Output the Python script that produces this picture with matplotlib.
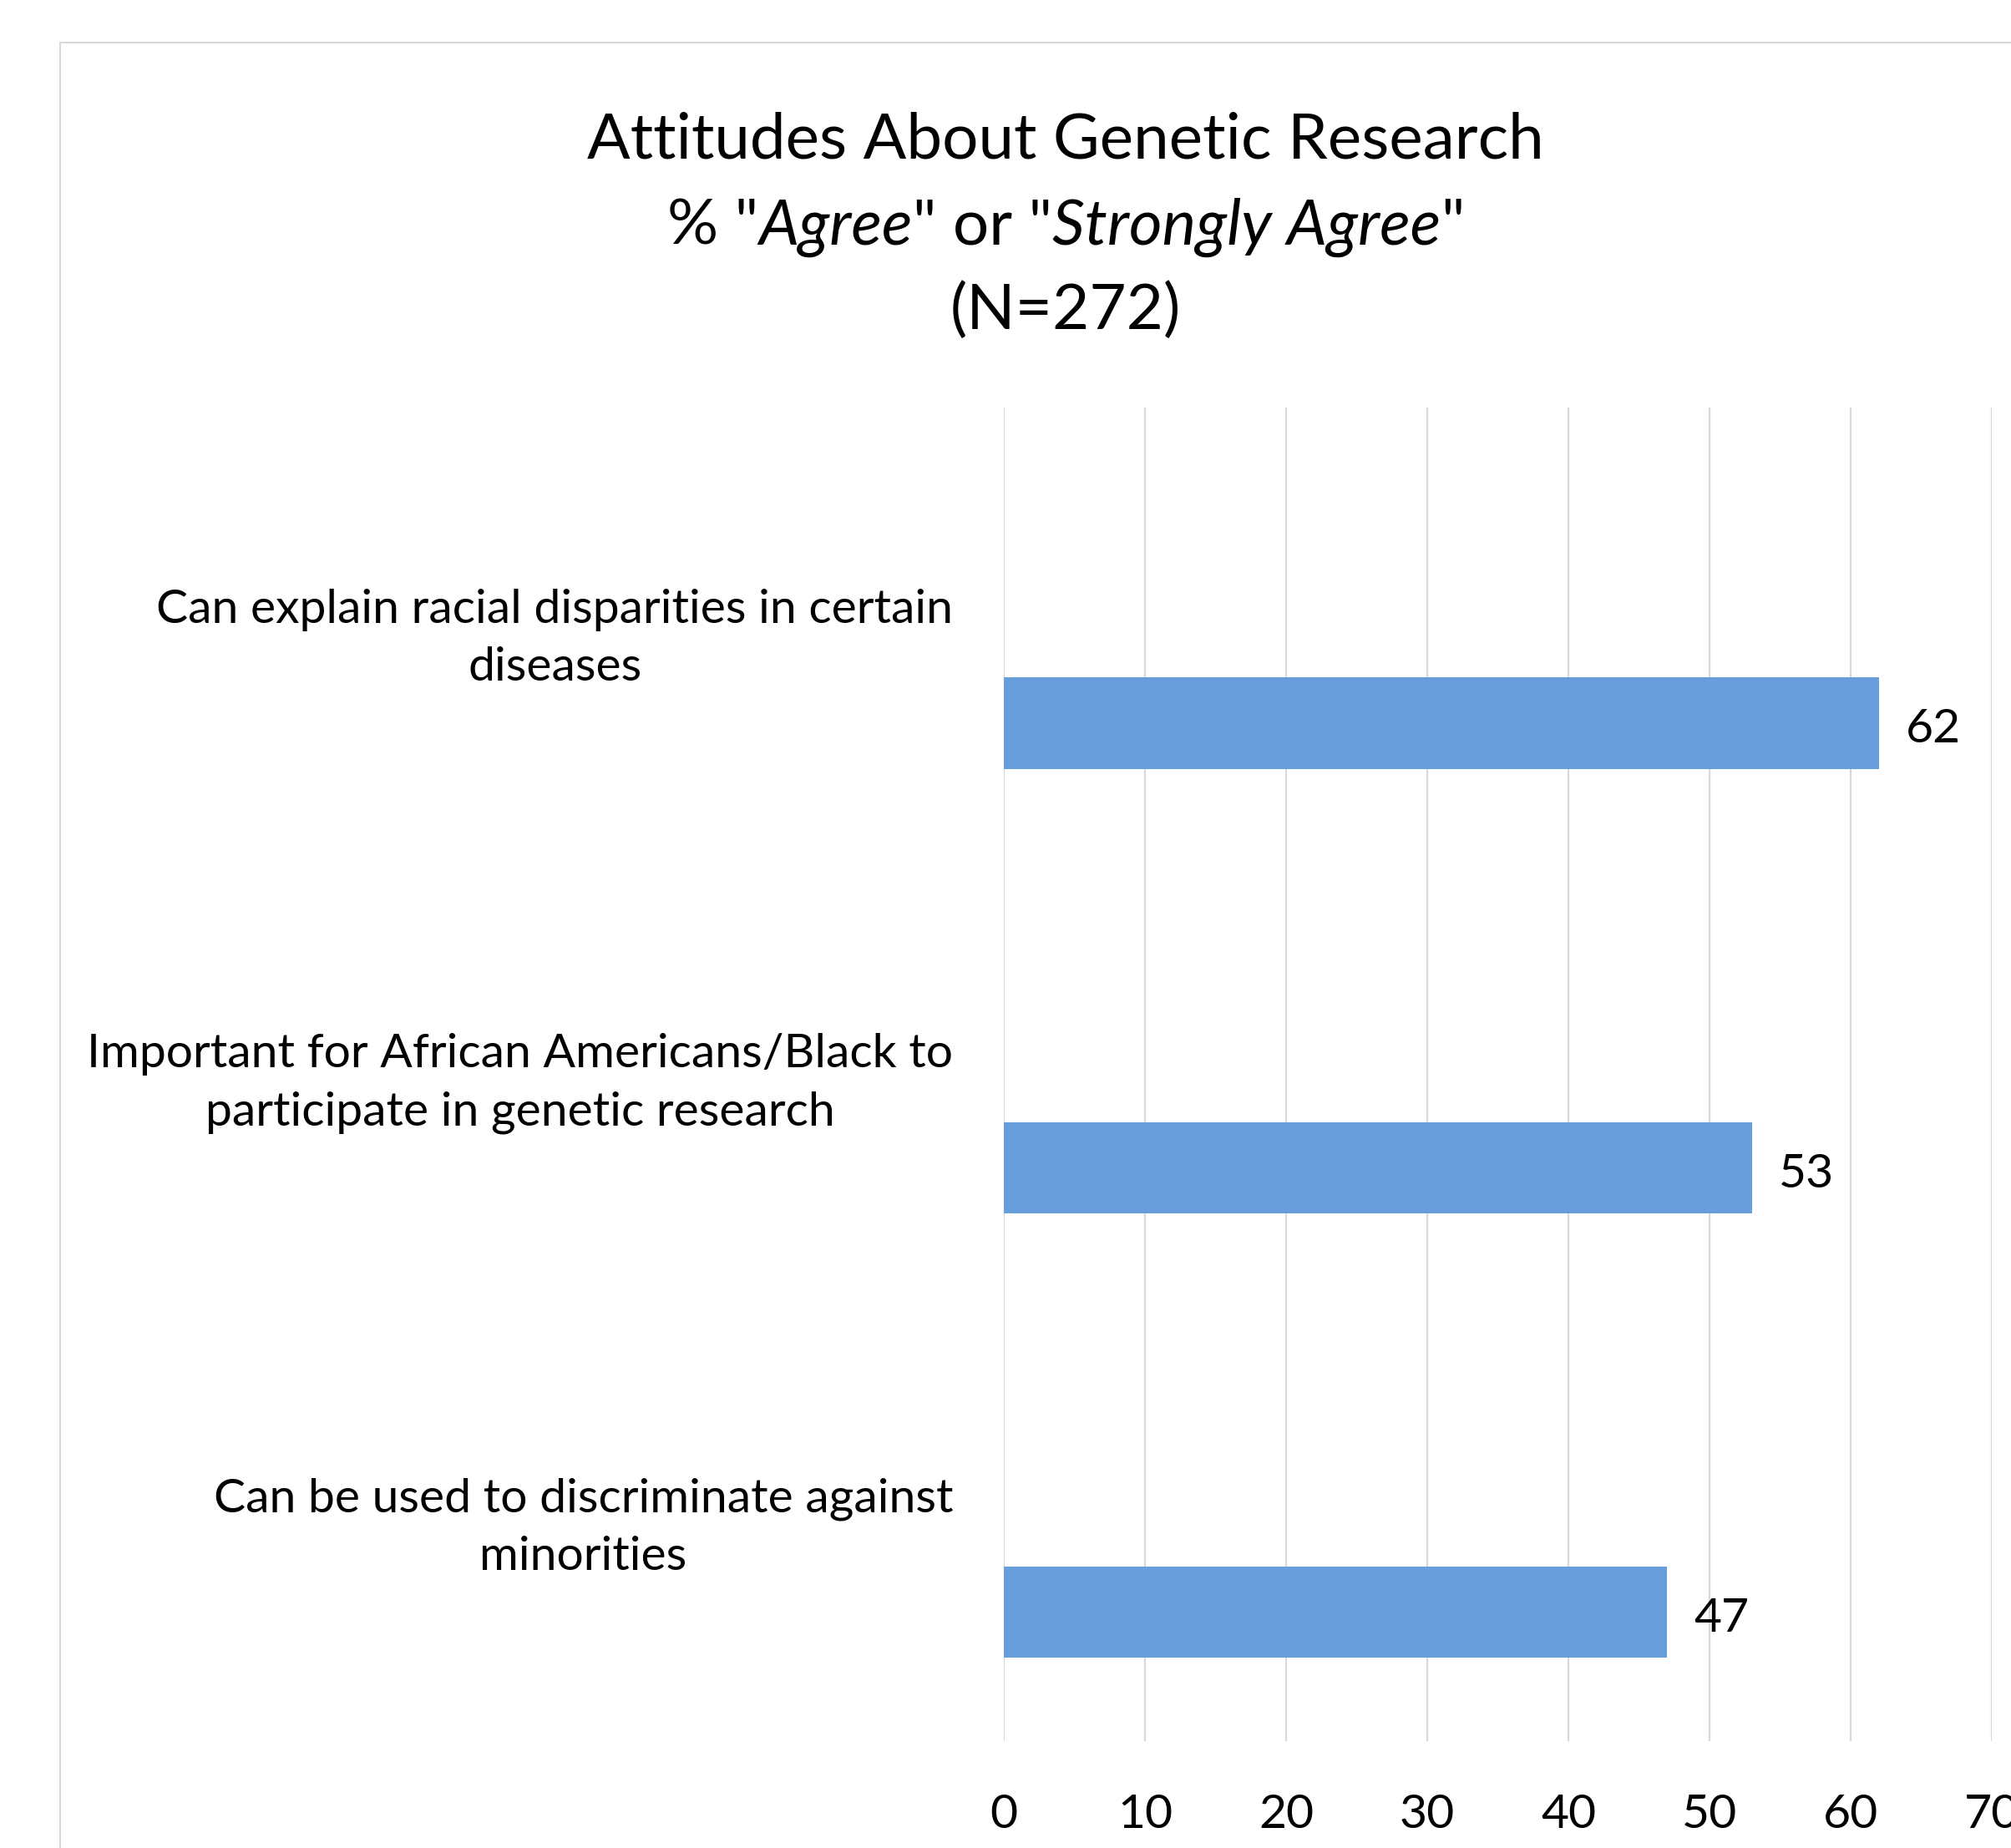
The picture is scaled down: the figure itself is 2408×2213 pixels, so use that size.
import matplotlib
matplotlib.use("Agg")
import matplotlib.pyplot as plt
from matplotlib.patches import Rectangle
from matplotlib.offsetbox import TextArea, HPacker, AnnotationBbox

## Data
categories = [
    "Can explain racial disparities in certain\ndiseases",
    "Important for African Americans/Black to\nparticipate in genetic research",
    "Can be used to discriminate against\nminorities",
]
values = [62, 53, 47]
xticks = [0, 10, 20, 30, 40, 50, 60, 70]

plt.rcParams['font.family'] = ['Lato', 'DejaVu Sans']
bar_color = '#689edb'
grid_color = '#d9d9d9'

fig = plt.figure(figsize=(24.08, 22.13), dpi=100)

# chart border (cut off at right / bottom like the screenshot)
fig.patches.append(Rectangle((72 / 2408, -0.1), 1.2, 1 - 51 / 2213 + 0.1,
                             transform=fig.transFigure, fill=False,
                             edgecolor='#d9d9d9', linewidth=1.5))

ax = fig.add_axes([0.4992, 0.0578, 0.4913, 0.7217])
ypos = list(range(len(categories)))
bar_y = [y + 0.21 for y in ypos]
ax.barh(bar_y, values, height=0.205, color=bar_color)
for y, v in zip(bar_y, values):
    ax.text(v + 1.9, y + 0.015, str(v), va='center', ha='left', fontsize=41)

ax.set_xlim(0, 70)
ax.set_ylim(2.5, -0.5)
ax.set_xticks(xticks)
ax.set_xticklabels([str(t) for t in xticks], fontsize=41)
ax.set_yticks([])
for y, lab in zip(ypos, categories):
    ax.text(-3.6, y + 0.02, lab, ha='right', va='center', multialignment='center',
            fontsize=41, linespacing=1.45)
ax.tick_params(axis='x', length=0, pad=45)
ax.grid(axis='x', color=grid_color, linewidth=1.6)
ax.set_axisbelow(True)
for s in ax.spines.values():
    s.set_visible(False)

## Title
cx = 0.530
fig.text(cx, 1 - 168 / 2213, "Attitudes About Genetic Research", ha='center', va='center', fontsize=55)
fig.text(cx, 1 - 372 / 2213, "(N=272)", ha='center', va='center', fontsize=55)
parts = [('% "', 'normal'), ('Agree', 'italic'), ('" or "', 'normal'),
         ('Strongly Agree', 'italic'), ('"', 'normal')]
boxes = [TextArea(t, textprops=dict(fontsize=55, fontstyle=st)) for t, st in parts]
pack = HPacker(children=boxes, pad=0, sep=0)
ab = AnnotationBbox(pack, (cx, 1 - 272 / 2213), xycoords='figure fraction',
                    frameon=False, box_alignment=(0.5, 0.5))
fig.add_artist(ab)

fig.savefig("out.png", dpi=100)
